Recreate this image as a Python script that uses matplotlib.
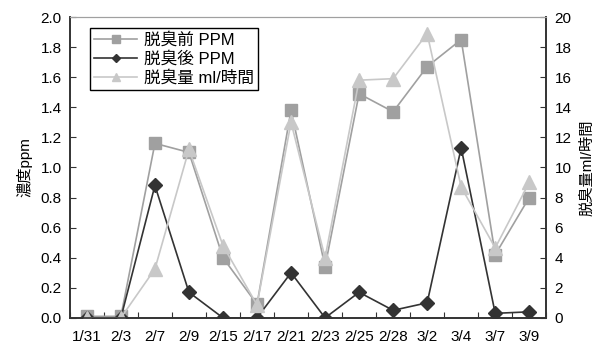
import matplotlib.pyplot as plt
import numpy as np

plt.rcParams['font.family'] = ['Liberation Sans', 'Noto Sans CJK JP', 'DejaVu Sans']

dates = ['1/31', '2/3', '2/7', '2/9', '2/15', '2/17', '2/21', '2/23',
         '2/25', '2/28', '3/2', '3/4', '3/7', '3/9']
before_ppm = [0.01, 0.01, 1.16, 1.10, 0.40, 0.09, 1.38, 0.34,
              1.49, 1.37, 1.67, 1.85, 0.42, 0.80]
after_ppm = [0.0, 0.0, 0.88, 0.17, 0.0, 0.0, 0.30, 0.0,
             0.17, 0.05, 0.10, 1.13, 0.03, 0.04]
volume = [0.0, 0.0, 3.25, 11.2, 4.8, 0.86, 13.0, 4.0,
          15.8, 15.9, 18.9, 8.7, 4.65, 9.0]

x = np.arange(len(dates))

fig = plt.figure(figsize=(5.97, 3.47), dpi=100)
ax = fig.add_axes([0.117, 0.084, 0.798, 0.867])
ax2 = ax.twinx()

l1, = ax.plot(x, before_ppm, color='#a0a0a0', marker='s', markersize=9,
              linewidth=1.2, label='脱臭前 PPM')
l2, = ax.plot(x, after_ppm, color='#333333', marker='D', markersize=7.5,
              linewidth=1.2, label='脱臭後 PPM')
l3, = ax2.plot(x, volume, color='#c8c8c8', marker='^', markersize=10,
               linewidth=1.2, label='脱臭量 ml/時間')

ax.set_xlim(-0.5, len(dates) - 0.5)
ax.set_ylim(0, 2.0)
ax2.set_ylim(0, 20)
ax.set_yticks(np.arange(0, 2.01, 0.2))
ax.set_yticklabels([f'{v:.1f}' for v in np.arange(0, 2.01, 0.2)])
ax2.set_yticks(np.arange(0, 21, 2))

ax.set_xticks(np.arange(-0.5, len(dates), 1.0))
ax.set_xticklabels([])
ax.set_xticks(x, minor=True)
ax.set_xticklabels(dates, minor=True)
ax.tick_params(axis='x', which='major', direction='in', length=4, color='#333333')
ax.tick_params(axis='x', which='minor', length=0, pad=9, labelsize=11)
ax.tick_params(axis='y', direction='in', length=4, labelsize=11, color='#333333', pad=6)
ax2.tick_params(axis='y', direction='in', length=4, labelsize=11, color='#333333', pad=6)

for a in (ax, ax2):
    a.spines['top'].set_color('#a0a0a0')
    a.spines['left'].set_color('#333333')
    a.spines['right'].set_color('#333333')
    a.spines['bottom'].set_color('#333333')
    a.spines['left'].set_linewidth(1.2)
    a.spines['right'].set_linewidth(1.2)
    a.spines['bottom'].set_linewidth(1.2)

ax.set_ylabel('濃度ppm', fontsize=11, labelpad=6)
ax2.set_ylabel('脱臭量ml/時間', fontsize=11, rotation=90, labelpad=6)

leg = ax2.legend(handles=[l1, l2, l3], loc='upper left',
                 bbox_to_anchor=(0.042, 0.963), fontsize=12, frameon=True,
                 fancybox=False, edgecolor='black', framealpha=1,
                 borderpad=0.25, labelspacing=0.2, handlelength=2.6,
                 handletextpad=0.4, borderaxespad=0, markerscale=0.6)
leg.get_frame().set_linewidth(1.0)

fig.savefig('out.png', dpi=100)
